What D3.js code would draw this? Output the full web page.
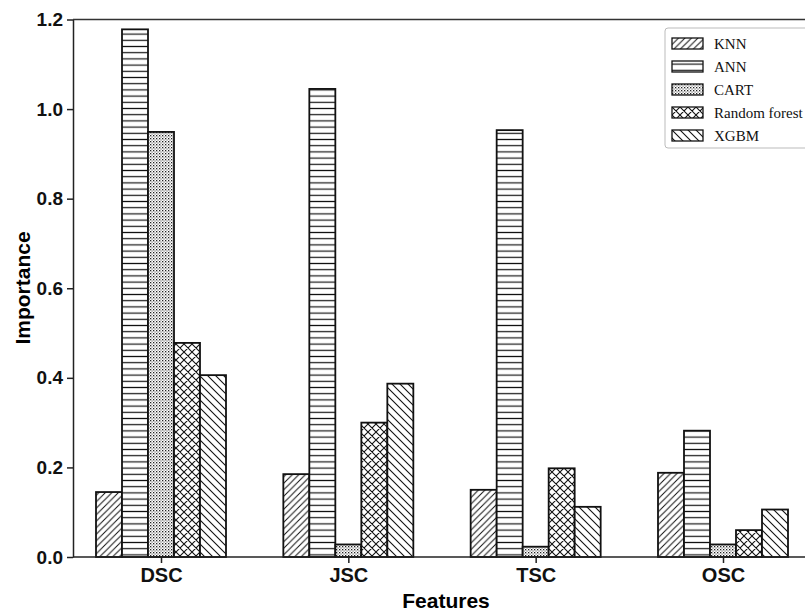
<!DOCTYPE html>
<html>
<head>
<meta charset="utf-8">
<script src="https://cdn.jsdelivr.net/npm/d3@7"></script>
<style>
  body { margin: 0; background: #fff; }
  svg { display: block; }
  .axis text { font-family: "Liberation Sans", Arial, sans-serif; font-weight: bold; fill: #111; }
  .axis line, .axis path { stroke: #222; stroke-width: 1.5px; }
</style>
</head>
<body>
<script>
const categories = ["DSC", "JSC", "TSC", "OSC"];
const models = ["KNN", "ANN", "CART", "Random forest", "XGBM"];
const knn  = [0.145, 0.185, 0.150, 0.188];
const ann  = [1.178, 1.045, 0.953, 0.282];
const cart = [0.949, 0.028, 0.023, 0.028];
const rf   = [0.478, 0.300, 0.198, 0.060];
const xgbm = [0.406, 0.387, 0.112, 0.106];
const yTicks = [0, 0.2, 0.4, 0.6, 0.8, 1.0, 1.2];

const series = [knn, ann, cart, rf, xgbm];
const W = 805, H = 613;
const mLeft = 73, mTop = 19.5, mBottom = 557;

const svg = d3.select("body").append("svg")
  .attr("width", W).attr("height", H);

// hatch patterns
const defs = svg.append("defs");
function pat(id, size, draw) {
  const p = defs.append("pattern").attr("id", id)
    .attr("patternUnits", "userSpaceOnUse")
    .attr("width", size).attr("height", size);
  p.append("rect").attr("width", size).attr("height", size).attr("fill", "#fff");
  draw(p, size);
}
pat("p0", 6.5, (p, s) => p.append("path")
  .attr("d", `M-1,1 l2,-2 M0,${s} l${s},-${s} M${s-1},${s+1} l2,-2`)
  .attr("stroke", "#111").attr("stroke-width", 1));
pat("p1", 6.2, (p, s) => p.append("path")
  .attr("d", `M0,${s/2} h${s}`)
  .attr("stroke", "#111").attr("stroke-width", 1.2));
pat("p2", 3, (p, s) => {
  p.append("rect").attr("x", 0).attr("y", 0).attr("width", 1.3).attr("height", 1.3).attr("fill", "#222");
  p.append("rect").attr("x", 1.5).attr("y", 1.5).attr("width", 1.1).attr("height", 1.1).attr("fill", "#555");
});
pat("p3", 8, (p, s) => p.append("path")
  .attr("d", `M-1,1 l2,-2 M0,${s} l${s},-${s} M${s-1},${s+1} l2,-2 M-1,${s-1} l2,2 M0,0 l${s},${s} M${s-1},-1 l2,2`)
  .attr("stroke", "#111").attr("stroke-width", 1.1));
pat("p4", 8, (p, s) => p.append("path")
  .attr("d", `M-1,${s-1} l2,2 M0,0 l${s},${s} M${s-1},-1 l2,2`)
  .attr("stroke", "#111").attr("stroke-width", 1.1));

const y = d3.scaleLinear().domain([0, 1.2]).range([mBottom, mTop]);
const x = d3.scalePoint().domain(categories).range([161, 723]);
const xs = d3.scaleBand().domain(models).range([-65, 65]);

// bars
models.forEach((m, j) => {
  svg.append("g").selectAll("rect")
    .data(categories.map((c, i) => ({ c, v: series[j][i] })))
    .join("rect")
    .attr("x", d => x(d.c) + xs(m))
    .attr("y", d => y(d.v))
    .attr("width", xs.bandwidth())
    .attr("height", d => y(0) - y(d.v))
    .attr("fill", `url(#p${j})`)
    .attr("stroke", "#111")
    .attr("stroke-width", 1.8);
});

// axes
svg.append("g").attr("class", "axis")
  .attr("transform", `translate(${mLeft},0)`)
  .call(d3.axisLeft(y).tickValues(yTicks).tickFormat(d3.format(".1f")).tickSize(6).tickSizeOuter(0).tickPadding(4))
  .selectAll("text").style("font-size", "19px");

svg.append("g").attr("class", "axis")
  .attr("transform", `translate(0,${mBottom})`)
  .call(d3.axisBottom(x).tickSize(6).tickPadding(5))
  .call(g => g.select(".domain").remove())
  .selectAll("text").style("font-size", "20px");

svg.append("line").attr("x1", mLeft).attr("x2", W).attr("y1", mBottom).attr("y2", mBottom)
  .attr("stroke", "#222").attr("stroke-width", 1.6);
svg.append("line").attr("x1", mLeft).attr("x2", W).attr("y1", mTop).attr("y2", mTop)
  .attr("stroke", "#333").attr("stroke-width", 1.6);

// axis titles
svg.append("text")
  .attr("transform", `translate(30,288) rotate(-90)`)
  .attr("text-anchor", "middle")
  .style("font-family", "Liberation Sans, Arial, sans-serif")
  .style("font-weight", "bold").style("font-size", "21px")
  .text("Importance");

svg.append("text")
  .attr("x", 446).attr("y", 608)
  .attr("text-anchor", "middle")
  .style("font-family", "Liberation Sans, Arial, sans-serif")
  .style("font-weight", "bold").style("font-size", "21px")
  .text("Features");

// legend
const lg = svg.append("g").attr("transform", "translate(665,28)");
lg.append("rect").attr("width", 160).attr("height", 120).attr("rx", 3)
  .attr("fill", "#fff").attr("stroke", "#bbb");
models.forEach((m, j) => {
  const row = lg.append("g").attr("transform", `translate(7,${10 + j * 23})`);
  row.append("rect").attr("width", 31).attr("height", 11)
    .attr("fill", `url(#p${j})`).attr("stroke", "#111").attr("stroke-width", 1.3);
  row.append("text").attr("x", 42).attr("y", 11)
    .style("font-family", "Liberation Serif, Times New Roman, serif")
    .style("font-size", "15px").attr("fill", "#111")
    .text(m);
});
</script>
</body>
</html>
